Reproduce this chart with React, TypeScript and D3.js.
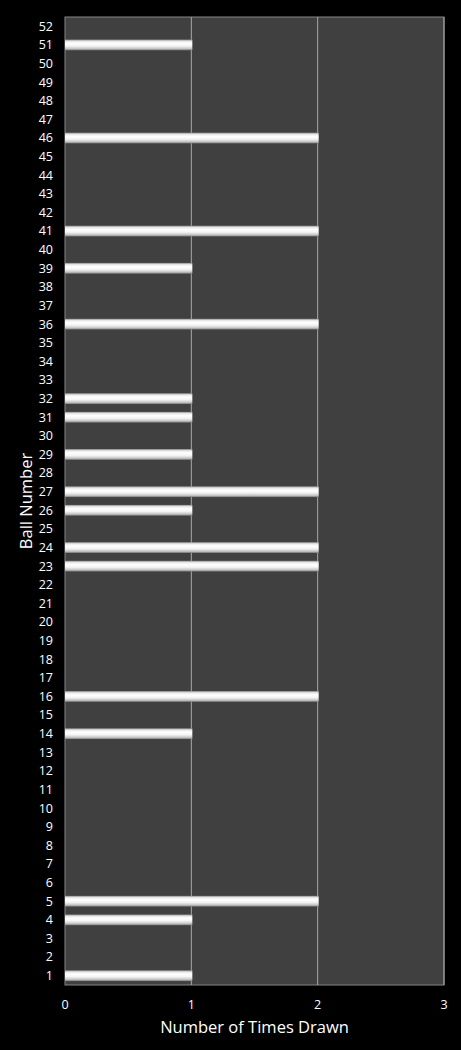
import * as d3 from "d3";

const width = 461;
const height = 1050;
const marginTop = 17;
const marginRight = 17;
const marginBottom = 65;
const marginLeft = 65;

const balls = d3.range(1, 53).map(String);
const drawnBalls = ["1", "4", "5", "14", "16", "23", "24", "26", "27", "29", "31", "32", "36", "39", "41", "46", "51"];
const drawnCounts = [1, 1, 2, 1, 2, 2, 2, 1, 2, 1, 1, 1, 2, 1, 2, 2, 1];
const xTicks = [0, 1, 2, 3];

const font = "'Open Sans', 'DejaVu Sans', sans-serif";

const App = () => {
  const x = d3.scaleLinear().domain([0, 3]).range([marginLeft, width - marginRight]);
  const y = d3
    .scaleBand()
    .domain([...balls].reverse())
    .range([marginTop, height - marginBottom])
    .paddingInner(0.42)
    .paddingOuter(0.21);

  const bars = drawnBalls.map((b, i) => ({ ball: b, count: drawnCounts[i] }));

  return (
    <div style={{ position: "absolute", left: 0, top: 0, width, height, background: "#000" }}>
      <svg width={width} height={height} viewBox={`0 0 ${width} ${height}`} style={{ display: "block" }}>
        <defs>
          <linearGradient id="barGrad" x1="0" y1="0" x2="0" y2="1">
            <stop offset="0%" stopColor="#8a8a8a" />
            <stop offset="15%" stopColor="#e6e6e6" />
            <stop offset="35%" stopColor="#ffffff" />
            <stop offset="60%" stopColor="#f4f4f4" />
            <stop offset="85%" stopColor="#c4c4c4" />
            <stop offset="100%" stopColor="#7a7a7a" />
          </linearGradient>
        </defs>
        <rect width={width} height={height} fill="#000" />
        <rect
          x={x(0)}
          y={marginTop}
          width={x(3) - x(0)}
          height={height - marginBottom - marginTop}
          fill="#404040"
          stroke="#858585"
          strokeWidth={1}
        />
        {xTicks.slice(1).map((t) => (
          <line
            key={t}
            x1={x(t)}
            x2={x(t)}
            y1={marginTop}
            y2={height - marginBottom}
            stroke="#a8a8a8"
            strokeWidth={1}
          />
        ))}
        {bars.map((d) => (
          <rect
            key={d.ball}
            x={x(0)}
            y={y(d.ball)}
            width={x(d.count) - x(0) + 1}
            height={y.bandwidth()}
            fill="url(#barGrad)"
          />
        ))}
        {balls.map((b) => (
          <text
            key={b}
            x={marginLeft - 12}
            y={(y(b) as number) + y.bandwidth() / 2}
            dy="0.35em"
            textAnchor="end"
            fill="#fff"
            fontSize={12.5}
            fontFamily={font}
          >
            {b}
          </text>
        ))}
        {xTicks.map((t) => (
          <text
            key={t}
            x={x(t)}
            y={height - marginBottom + 20}
            dy="0.35em"
            textAnchor="middle"
            fill="#fff"
            fontSize={12.5}
            fontFamily={font}
          >
            {t}
          </text>
        ))}
        <text
          x={(x(0) + x(3)) / 2}
          y={1027}
          dy="0.35em"
          textAnchor="middle"
          fill="#fff"
          fontSize={16.5}
          fontFamily={font}
        >
          Number of Times Drawn
        </text>
        <text
          transform={`translate(26, ${(marginTop + height - marginBottom) / 2}) rotate(-90)`}
          dy="0.35em"
          textAnchor="middle"
          fill="#fff"
          fontSize={16.5}
          fontFamily={font}
        >
          Ball Number
        </text>
      </svg>
    </div>
  );
};

export default App;
